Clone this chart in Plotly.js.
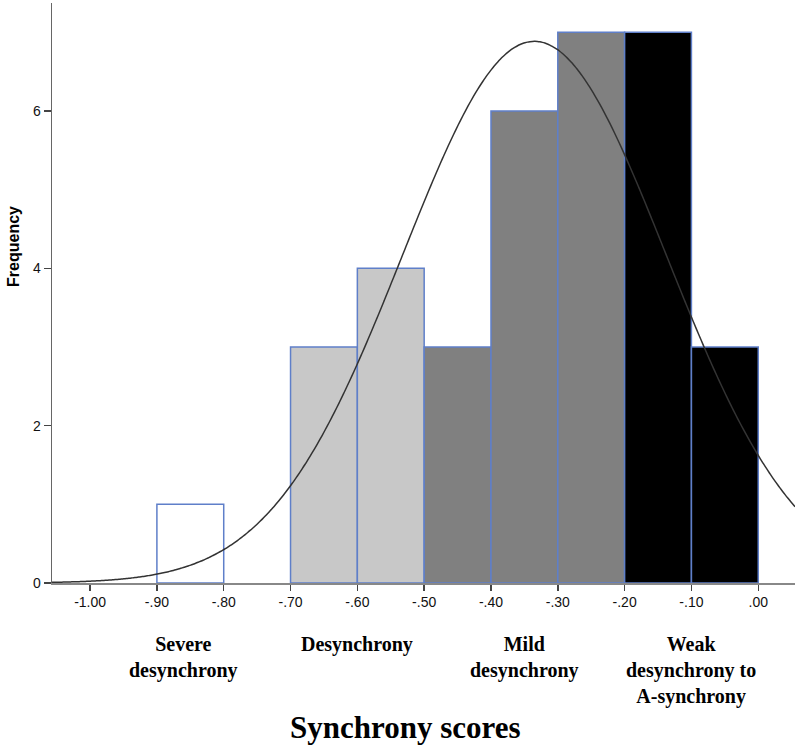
<!DOCTYPE html>
<html>
<head>
<meta charset="utf-8">
<script src="https://cdn.plot.ly/plotly-3.0.1.min.js"></script>
<style>html,body{margin:0;padding:0;background:#fff}#chart{width:800px;height:749px}</style>
</head>
<body>
<div id="chart"></div>
<script>
// Histogram bins (bin centers), counts and fills
var binCenters = [-0.85, -0.65, -0.55, -0.45, -0.35, -0.25, -0.15, -0.05];
var counts = [1, 3, 4, 3, 6, 7, 7, 3];
var fills = ['#ffffff', '#c8c8c8', '#c8c8c8', '#808080', '#808080', '#808080', '#000000', '#000000'];
var binWidth = 0.1;

// Fitted normal curve parameters
var curveMean = -0.335;
var curveSD = 0.197;
var curveN = 34;

// Tick labels
var xTickVals = [-1.0, -0.9, -0.8, -0.7, -0.6, -0.5, -0.4, -0.3, -0.2, -0.1, 0.0];
var xTickText = ['-1.00', '-.90', '-.80', '-.70', '-.60', '-.50', '-.40', '-.30', '-.20', '-.10', '.00'];
var yTickVals = [0, 2, 4, 6];

// Category labels under the axis
var groupLabels = ['Severe<br>desynchrony', 'Desynchrony', 'Mild<br>desynchrony', 'Weak<br>desynchrony to<br>A-synchrony'];
var groupCenters = [-0.86, -0.60, -0.35, -0.10];

var xMin = -1.057, xMax = 0.055;
var curveX = [], curveY = [];
var steps = 300;
for (var i = 0; i <= steps; i++) {
  var x = xMin + (xMax - xMin) * i / steps;
  var z = (x - curveMean) / curveSD;
  curveX.push(x);
  curveY.push(curveN * binWidth * Math.exp(-0.5 * z * z) / (curveSD * Math.sqrt(2 * Math.PI)));
}

var traces = [
  {
    type: 'bar', x: binCenters, y: counts, width: binWidth,
    marker: {color: fills, line: {color: '#5f7fc9', width: 1.5}},
    hoverinfo: 'x+y', showlegend: false
  },
  {
    type: 'scatter', mode: 'lines', x: curveX, y: curveY,
    line: {color: '#333333', width: 1.5, shape: 'spline'},
    hoverinfo: 'skip', showlegend: false
  }
];

var serif = 'Liberation Serif, Times New Roman, serif';
var annotations = groupLabels.map(function (t, k) {
  return {
    text: '<b>' + t + '</b>', x: groupCenters[k], xref: 'x', y: -0.082, yref: 'paper',
    xanchor: 'center', yanchor: 'top', showarrow: false, align: 'center',
    font: {family: serif, size: 20, color: '#000'}
  };
});
annotations.push({
  text: '<b>Synchrony scores</b>', x: 0.476, xref: 'paper', y: -0.216, yref: 'paper',
  xanchor: 'center', yanchor: 'top', showarrow: false,
  font: {family: serif, size: 31, color: '#000'}
});
annotations.push({
  text: '<b>Frequency</b>', x: -0.052, xref: 'paper', xanchor: 'center',
  y: 0.58, yref: 'paper', yanchor: 'middle', textangle: -90, showarrow: false,
  font: {family: 'Liberation Sans, Arial, sans-serif', size: 16, color: '#000'}
});

var layout = {
  width: 800, height: 749,
  margin: {l: 52, r: 5, t: 3, b: 166, pad: 0},
  paper_bgcolor: '#ffffff', plot_bgcolor: '#ffffff',
  bargap: 0,
  xaxis: {
    range: [xMin, xMax], tickmode: 'array', tickvals: xTickVals, ticktext: xTickText,
    showgrid: false, zeroline: false, showline: true, linecolor: '#888888', linewidth: 1.5,
    ticks: 'outside', ticklen: 6, tickwidth: 1.5, tickcolor: '#444444',
    tickfont: {family: 'Liberation Sans, Arial, sans-serif', size: 14, color: '#111'}
  },
  yaxis: {
    range: [0, 7.373], tickmode: 'array', tickvals: yTickVals,
    showgrid: false, zeroline: false, showline: true, linecolor: '#666666', linewidth: 1.5,
    ticks: 'outside', ticklen: 7, tickwidth: 1.5, tickcolor: '#444444',
    tickfont: {family: 'Liberation Sans, Arial, sans-serif', size: 14, color: '#111'}
  },
  annotations: annotations,
  showlegend: false
};

Plotly.newPlot('chart', traces, layout, {displayModeBar: false, staticPlot: true});
</script>
</body>
</html>
